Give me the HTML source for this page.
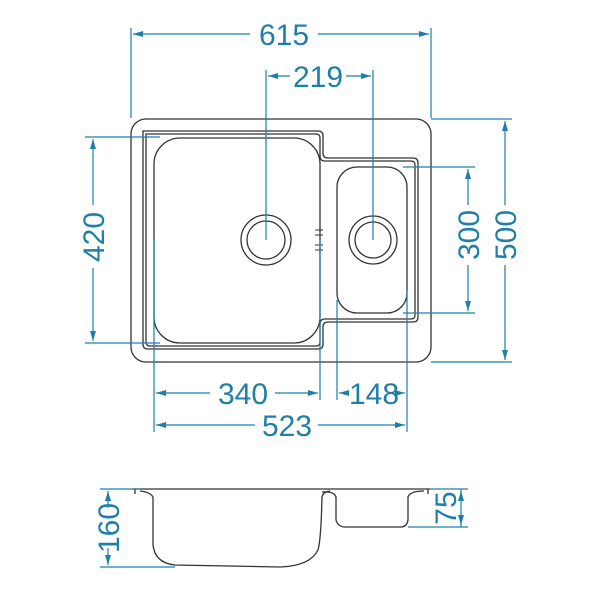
<!DOCTYPE html>
<html><head><style>body{margin:0;background:#fff}svg{display:block}</style></head><body>
<svg width="600" height="600" viewBox="0 0 600 600" xmlns="http://www.w3.org/2000/svg">
<defs>
<marker id="a" viewBox="0 0 10 6" refX="10" refY="3" markerWidth="10" markerHeight="6" orient="auto-start-reverse" markerUnits="userSpaceOnUse"><path d="M0,0L10,3L0,6z" fill="#1f7fa6"/></marker>
</defs>
<g fill="none" stroke="#333" stroke-width="1.3">
<rect x="131" y="119" width="300" height="243" rx="15"/>
<path d="M143,131 H318 Q323,131 323,136 V153 Q323,158 328,158 H413 Q418,158 418,163 V317 Q418,322 413,322 H328 Q323,322 323,327 V344 Q323,349 318,349 H148 Q143,349 143,344 Z"/>
<path d="M146,134 H316 Q320,134 320,138 V156 Q320,161 325,161 H411 Q415,161 415,165 V315 Q415,319 411,319 H325 Q320,319 320,324 V342 Q320,346 316,346 H150 Q146,346 146,342 Z"/>
<rect x="154" y="138" width="166" height="205" rx="26"/>
<rect x="337" y="167" width="70" height="146" rx="20"/>
<circle cx="266" cy="240" r="25"/><circle cx="266" cy="240" r="19"/>
<circle cx="373" cy="240" r="24"/><circle cx="373" cy="240" r="18"/>
<path d="M315,230h8M315,235h8M315,245h8M315,250h8" stroke-width="1"/>
<path d="M132,489 H430 M135,489 v5 M428,489 v5 M140,491 Q150,492 153,497 V545 Q155,563 175,565 L280,567 Q310,566 318,550 Q321,540 322,497 Q323,492 330,491 M322,492 Q334,491 336,497 V520 Q338,527 345,527 H400 Q407,527 408,520 V497 Q410,491 424,491"/>
</g>
<g stroke="#1f7fa6" stroke-width="1.2" fill="none">
<path d="M131,28V118 M431,28V118 M266,70V240 M373,70V240 M85,137H160 M85,343H160 M403,167H475 M403,313H475 M431,119H512 M431,362H512 M154,240V432 M320,240V400 M337,300V400 M407,290V432 M100,489H140 M100,567H175 M408,527H468 M430,489H468"/>
<path d="M250,34H133" marker-end="url(#a)"/><path d="M318,34H429" marker-end="url(#a)"/>
<path d="M290,76H268" marker-end="url(#a)"/><path d="M346,76H371" marker-end="url(#a)"/>
<path d="M93,205V139" marker-end="url(#a)"/><path d="M93,268V341" marker-end="url(#a)"/>
<path d="M468,205V169" marker-end="url(#a)"/><path d="M468,265V311" marker-end="url(#a)"/>
<path d="M505,205V121" marker-end="url(#a)"/><path d="M505,265V360" marker-end="url(#a)"/>
<path d="M210,393H156" marker-end="url(#a)"/><path d="M275,393H318" marker-end="url(#a)"/>
<path d="M349,393H339" marker-end="url(#a)"/><path d="M398,393H405" marker-end="url(#a)"/>
<path d="M255,425H156" marker-end="url(#a)"/><path d="M318,425H405" marker-end="url(#a)"/>
<path d="M108,508V491" marker-end="url(#a)"/><path d="M108,548V565" marker-end="url(#a)"/>
<path d="M461,493V491" marker-end="url(#a)"/><path d="M461,522V525" marker-end="url(#a)"/>
<path d="M461,489V527"/>
</g>
<g fill="#1f7fa6" font-family="Liberation Sans, sans-serif" font-size="30" text-anchor="middle">
<text x="284" y="45">615</text>
<text x="318" y="87">219</text>
<text x="243" y="404">340</text>
<text x="374" y="404">148</text>
<text x="287" y="436">523</text>
<text transform="translate(104,237) rotate(-90)">420</text>
<text transform="translate(479,235) rotate(-90)">300</text>
<text transform="translate(516,235) rotate(-90)">500</text>
<text transform="translate(119,528) rotate(-90)">160</text>
<text transform="translate(456,508) rotate(-90)">75</text>
</g>
</svg>
</body></html>
